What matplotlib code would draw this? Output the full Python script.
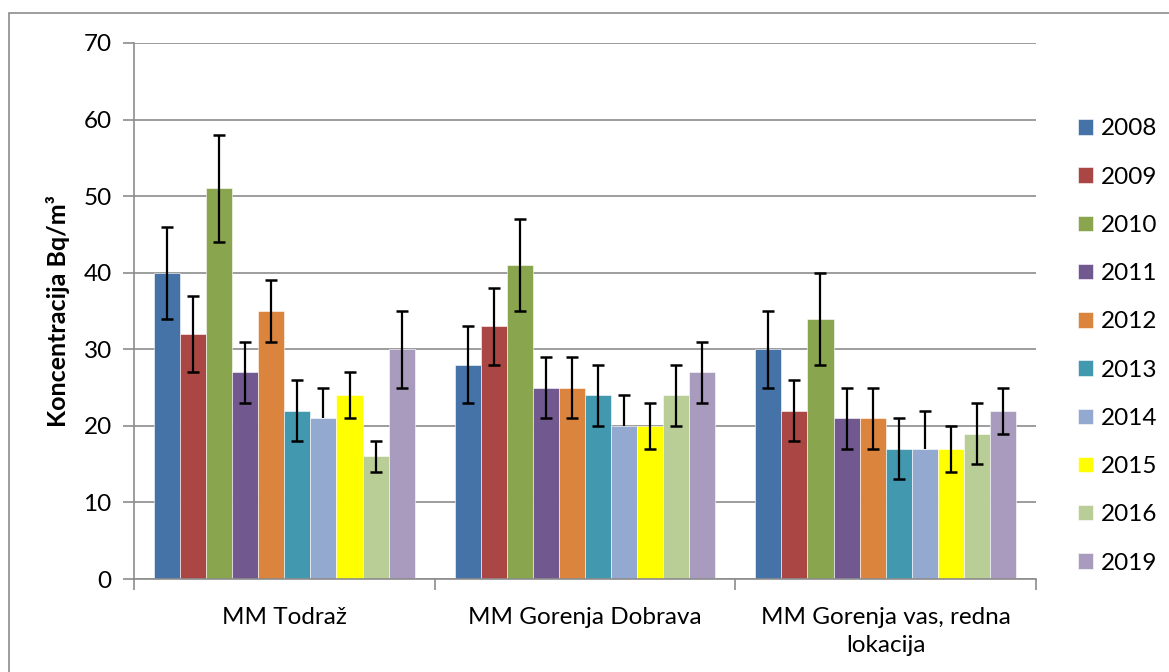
import numpy as np
from matplotlib import pyplot as plt
from matplotlib.patches import Rectangle

# data
locations = ['MM Todraž', 'MM Gorenja Dobrava', 'MM Gorenja vas, redna\nlokacija']
years = ['2008', '2009', '2010', '2011', '2012', '2013', '2014', '2015', '2016', '2019']
values = [
    [40, 28, 30],
    [32, 33, 22],
    [51, 41, 34],
    [27, 25, 21],
    [35, 25, 21],
    [22, 24, 17],
    [21, 20, 17],
    [24, 20, 17],
    [16, 24, 19],
    [30, 27, 22],
]
err_minus = [
    [6, 5, 5],
    [5, 5, 4],
    [7, 6, 6],
    [4, 4, 4],
    [4, 4, 4],
    [4, 4, 4],
    [0, 0, 0],
    [3, 3, 3],
    [2, 4, 4],
    [5, 4, 3],
]
err_plus = [
    [6, 5, 5],
    [5, 5, 4],
    [7, 6, 6],
    [4, 4, 4],
    [4, 4, 4],
    [4, 4, 4],
    [4, 4, 5],
    [3, 3, 3],
    [2, 4, 4],
    [5, 4, 3],
]
colors = ['#4572A7', '#AA4643', '#89A54E', '#71588F', '#DB843D',
          '#4198AF', '#93A9CF', '#FFFF00', '#B9CD96', '#A99BBD']

plt.rcParams['font.family'] = ['Lato', 'DejaVu Sans']
FS = 17.5
GRID = '#8c8c8c'

fig = plt.figure(figsize=(11.69, 6.72), dpi=100)
ax = fig.add_axes([134 / 1169, 93 / 672, 902 / 1169, 536 / 672])

# outer chart frame
fig.patches.append(Rectangle((9 / 1169, -0.1), 1.2, (672 - 13) / 672 + 0.1,
                             transform=fig.transFigure, fill=False,
                             edgecolor=GRID, linewidth=1.2))

x = np.arange(len(locations))
bar_w = 0.0867
n = len(years)
for i, year in enumerate(years):
    pos = x + (i - (n - 1) / 2) * bar_w
    vals = np.array(values[i])
    lo = vals - np.array(err_minus[i])
    hi = vals + np.array(err_plus[i])
    ax.bar(pos, vals, width=bar_w, color=colors[i], edgecolor='white',
           linewidth=0.4, label=year, zorder=2)
    ax.vlines(pos, lo, hi, color='black', linewidth=1.6, zorder=3)
    # caps only where there is an error in that direction
    ax.plot(pos, hi, linestyle='none', marker='_', markersize=9,
            markeredgewidth=1.8, color='black', zorder=3)
    has_lo = np.array(err_minus[i]) > 0
    ax.plot(pos[has_lo], lo[has_lo], linestyle='none', marker='_', markersize=9,
            markeredgewidth=1.8, color='black', zorder=3)

ax.set_xlim(-0.5, 2.5)
ax.set_ylim(0, 70)
ax.set_yticks(range(0, 71, 10))
ax.yaxis.grid(True, color=GRID, linewidth=1.2, zorder=0)
ax.set_axisbelow(True)

ax.set_xticks([-0.5, 0.5, 1.5, 2.5])
ax.set_xticklabels([])
ax.set_xticks(x, minor=True)
ax.set_xticklabels(locations, minor=True, fontsize=FS, linespacing=1.45)
ax.tick_params(axis='x', which='minor', length=0, pad=20)
ax.tick_params(axis='x', which='major', length=8, color=GRID, width=1.2)
ax.tick_params(axis='y', length=8, color=GRID, width=1.2, labelsize=FS, pad=8)

for side in ['top', 'right']:
    ax.spines[side].set_visible(False)
for side in ['left', 'bottom']:
    ax.spines[side].set_color(GRID)
    ax.spines[side].set_linewidth(1.2)

ax.set_ylabel('Koncentracija Bq/m³', fontsize=18, fontweight='bold', labelpad=10)

ax.legend(loc='center left', bbox_to_anchor=(1078 / 1169, 1 - 346 / 672),
          bbox_transform=fig.transFigure, frameon=False, borderpad=0,
          borderaxespad=0, fontsize=FS, handlelength=0.6, handleheight=0.6,
          handletextpad=0.35, labelspacing=1.12)

fig.savefig('out.png', dpi=100)
